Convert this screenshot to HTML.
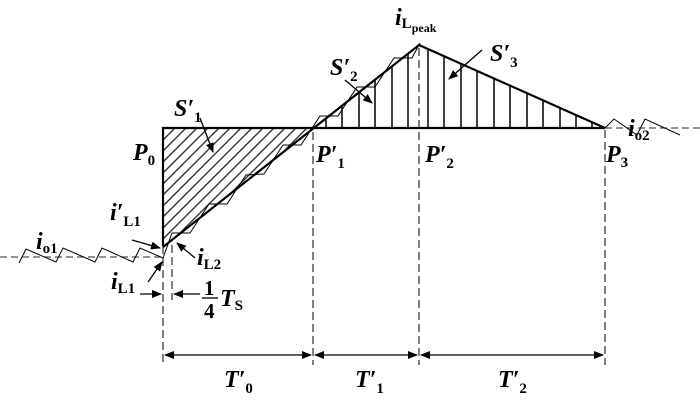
<!DOCTYPE html>
<html><head><meta charset="utf-8"><style>
html,body{margin:0;padding:0;background:#fff}
svg{display:block}
text{font-family:"Liberation Serif",serif;font-weight:bold;font-style:italic;fill:#000}
.s{font-style:normal;font-size:15px}
</style></head><body>
<svg width="700" height="407" viewBox="0 0 700 407" xmlns="http://www.w3.org/2000/svg">
<defs>
<clipPath id="c1"><polygon points="163,128 314,128 163,246"/></clipPath>
<marker id="ar" markerWidth="10" markerHeight="8" refX="9" refY="4" orient="auto" markerUnits="userSpaceOnUse"><path d="M0,0 L10,4 L0,8 z" fill="#000"/></marker>
<marker id="ar2" markerWidth="10" markerHeight="8" refX="9" refY="4" orient="auto-start-reverse" markerUnits="userSpaceOnUse"><path d="M0,0 L10,4 L0,8 z" fill="#000"/></marker>
</defs>
<!-- hatch -->
<g clip-path="url(#c1)" stroke="#333" stroke-width="1.4">
<path d="M10,260 L150,120 M21,260 L161,120 M32,260 L172,120 M43,260 L183,120 M54,260 L194,120 M65,260 L205,120 M76,260 L216,120 M87,260 L227,120 M98,260 L238,120 M109,260 L249,120 M120,260 L260,120 M131,260 L271,120 M142,260 L282,120 M153,260 L293,120 M164,260 L304,120 M175,260 L315,120 M186,260 L326,120"/>
</g>
<!-- vertical hatch -->
<g stroke="#000" stroke-width="1.5">
<line x1="326" y1="128" x2="326" y2="118"/><line x1="342" y1="128" x2="342" y2="105"/><line x1="359" y1="128" x2="359" y2="92"/><line x1="375" y1="128" x2="375" y2="79"/><line x1="392" y1="128" x2="392" y2="66"/><line x1="408" y1="128" x2="408" y2="53"/><line x1="428" y1="128" x2="428" y2="49"/><line x1="444" y1="128" x2="444" y2="56"/><line x1="461" y1="128" x2="461" y2="64"/><line x1="477" y1="128" x2="477" y2="71"/><line x1="494" y1="128" x2="494" y2="78"/><line x1="510" y1="128" x2="510" y2="86"/><line x1="527" y1="128" x2="527" y2="93"/><line x1="543" y1="128" x2="543" y2="100"/><line x1="560" y1="128" x2="560" y2="108"/><line x1="576" y1="128" x2="576" y2="115"/><line x1="592" y1="128" x2="592" y2="122"/>
</g>
<!-- main shapes -->
<g stroke="#000" stroke-width="2.2" fill="none">
<polyline points="163,246 163,128 605,128"/>
<polyline points="163,247 419,45 605,128"/>
</g>
<!-- dashed -->
<g stroke="#555" stroke-width="1.2" stroke-dasharray="7,4" fill="none">
<line x1="0" y1="257" x2="163" y2="257"/>
<line x1="605" y1="128" x2="700" y2="128"/>
</g>
<g stroke="#000" stroke-width="1" stroke-dasharray="8,4" fill="none">
<line x1="163" y1="246" x2="163" y2="365"/>
<line x1="172" y1="245" x2="172" y2="300"/>
<line x1="313" y1="132" x2="313" y2="365"/>
<line x1="419" y1="48" x2="419" y2="365"/>
<line x1="605" y1="130" x2="605" y2="365"/>
</g>
<!-- zigzags -->
<g stroke="#000" stroke-width="1" fill="none">
<polyline points="19,263 26,249 56,262 63,248 95,262 102,248 133,262 140,248 163,258"/>
<polyline points="163,258 172,233 190,233 209,204 227,204 246,175 264,174 283,145 301,145 320,116 338,116 357,87 375,87 394,58 412,58 420,43"/>
<polyline points="605,128 614,119 637,135 645,119 680,135"/>
</g>
<!-- arrows -->
<g stroke="#000" stroke-width="1.3">
<line x1="165" y1="355" x2="311" y2="355" marker-start="url(#ar2)" marker-end="url(#ar2)"/>
<line x1="315" y1="355" x2="417" y2="355" marker-start="url(#ar2)" marker-end="url(#ar2)"/>
<line x1="421" y1="355" x2="603" y2="355" marker-start="url(#ar2)" marker-end="url(#ar2)"/>
<line x1="140" y1="294" x2="161" y2="294" marker-end="url(#ar)"/>
<line x1="200" y1="294" x2="174" y2="294" marker-end="url(#ar)"/>
<line x1="132" y1="240" x2="160" y2="248" marker-end="url(#ar)"/>
<line x1="148" y1="282" x2="162" y2="262" marker-end="url(#ar)"/>
<line x1="195" y1="258" x2="177" y2="243" marker-end="url(#ar)"/>
<line x1="200" y1="118" x2="213" y2="152" marker-end="url(#ar)"/>
<line x1="345" y1="80" x2="372" y2="103" marker-end="url(#ar)"/>
<line x1="482" y1="50" x2="449" y2="79" marker-end="url(#ar)"/>
</g>
<!-- labels -->
<text x="133" y="160" font-size="24">P<tspan class="s" dy="5">0</tspan></text>
<text x="174" y="116" font-size="24">S′<tspan class="s" dy="6">1</tspan></text>
<text x="316" y="162" font-size="24">P′<tspan class="s" dy="6">1</tspan></text>
<text x="425" y="162" font-size="24">P′<tspan class="s" dy="6">2</tspan></text>
<text x="606" y="162" font-size="24">P<tspan class="s" dy="5">3</tspan></text>
<text x="330" y="75" font-size="24">S′<tspan class="s" dy="6">2</tspan></text>
<text x="490" y="61" font-size="24">S′<tspan class="s" dy="6">3</tspan></text>
<text x="395" y="25" font-size="24">i<tspan class="s" dy="3">L</tspan><tspan class="s" style="font-size:12px" dy="4">peak</tspan></text>
<text x="628" y="136" font-size="24">i<tspan class="s" dy="4">o2</tspan></text>
<text x="36" y="249" font-size="24">i<tspan class="s" dy="4">o1</tspan></text>
<text x="110" y="220" font-size="24">i′<tspan class="s" dy="6">L1</tspan></text>
<text x="197" y="265" font-size="24">i<tspan class="s" dy="4">L2</tspan></text>
<text x="111" y="289" font-size="24">i<tspan class="s" dy="4">L1</tspan></text>
<text x="204" y="295" font-size="21" style="font-style:normal">1</text>
<line x1="202" y1="298" x2="218" y2="298" stroke="#000" stroke-width="1.3"/>
<text x="204" y="318" font-size="21" style="font-style:normal">4</text>
<text x="220" y="306" font-size="24">T<tspan class="s" dy="4">S</tspan></text>
<text x="224" y="387" font-size="24">T′<tspan class="s" dy="6">0</tspan></text>
<text x="355" y="387" font-size="24">T′<tspan class="s" dy="6">1</tspan></text>
<text x="498" y="387" font-size="24">T′<tspan class="s" dy="6">2</tspan></text>
</svg>
</body></html>
